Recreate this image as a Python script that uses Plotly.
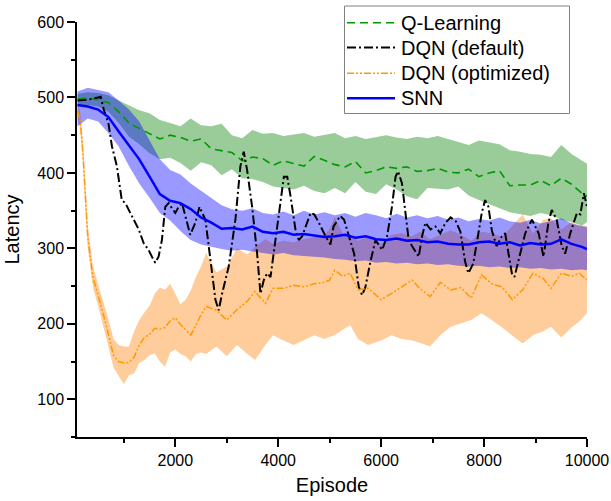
import plotly.graph_objects as go

# ---------------- data ----------------
EP = [100, 300, 500, 700, 900, 1100, 1300, 1500, 1700, 1900, 2100, 2300, 2500, 2700,
      2900, 3100, 3300, 3500, 3700, 3900, 4100, 4300, 4500, 4700, 4900, 5100, 5300,
      5500, 5700, 5900, 6100, 6300, 6500, 6700, 6900, 7100, 7300, 7500, 7700, 7900,
      8100, 8300, 8500, 8700, 8900, 9100, 9300, 9500, 9700, 9900, 10000]

SNN_MEAN = [490, 488, 484, 474, 455, 437, 418, 395, 372, 363, 360, 352, 341, 334,
            326, 327, 325, 329, 322, 320, 322, 318, 319, 317, 315, 316, 318,
            314, 316, 312, 311, 313, 310, 311, 308, 309, 306, 305, 305, 308,
            309, 306, 308, 304, 307, 305, 306, 312, 306, 302, 299]
SNN_UP = [508, 513, 510, 507, 496, 484, 468, 442, 418, 404, 398, 386, 376, 366,
          357, 352, 350, 353, 347, 345, 349, 344, 350, 345, 348, 344, 347,
          342, 347, 344, 340, 346, 341, 344, 340, 343, 338, 341, 336, 339,
          337, 341, 336, 334, 338, 333, 336, 340, 333, 330, 328]
SNN_LO = [462, 472, 468, 453, 435, 409, 386, 367, 347, 337, 323, 311, 305, 302,
          299, 297, 298, 296, 294, 292, 294, 291, 290, 289, 288, 286, 285,
          283, 284, 281, 282, 280, 281, 279, 280, 278, 279, 277, 276, 277,
          275, 276, 274, 275, 273, 274, 272, 273, 271, 272, 271]

QL_MEAN = [498, 499, 497, 493, 481, 466, 459, 452, 445, 450, 447, 442, 445, 432,
           429, 427, 416, 421, 419, 410, 416, 413, 409, 422, 417, 411, 408,
           415, 400, 403, 408, 406, 408, 402, 403, 406, 401, 400, 405, 395,
           400, 403, 383, 384, 384, 390, 383, 393, 385, 373, 369]
QL_UP = [505, 507, 506, 503, 496, 489, 483, 479, 470, 466, 462, 472, 463, 462,
         465, 450, 446, 457, 452, 453, 449, 451, 453, 448, 450, 453, 446,
         449, 445, 448, 450, 447, 445, 448, 446, 449, 445, 440, 437, 443,
         440, 438, 430, 428, 425, 424, 421, 437, 425, 416, 412]
QL_LO = [488, 490, 488, 481, 466, 448, 438, 426, 418, 420, 413, 403, 414, 410,
         397, 405, 393, 392, 388, 382, 380, 378, 383, 376, 373, 380, 373,
         388, 375, 372, 385, 378, 369, 365, 380, 379, 378, 382, 370, 364,
         358, 353, 348, 345, 343, 347, 344, 338, 335, 330, 335]

OPT_EP = [100, 150, 200, 250, 300, 400, 500, 600, 700, 800, 900, 1000, 1100, 1200,
          1300, 1400, 1500, 1600, 1700, 1800, 1900, 2000, 2100, 2200, 2300, 2400,
          2500, 2600, 2800, 3000, 3200, 3400, 3550, 3750, 3900, 4100, 4300, 4500,
          4700, 4900, 5000, 5100, 5250, 5400, 5550, 5750, 6000, 6200, 6400, 6600,
          6750, 6950, 7150, 7350, 7550, 7750, 7950, 8150, 8350, 8550, 8750, 8950,
          9150, 9300, 9500, 9700, 9850, 10000]
OPT_MEAN = [482, 470, 432, 370, 314, 262, 239, 213, 186, 158, 150, 148, 149, 156,
            172, 182, 186, 194, 193, 195, 204, 208, 199, 192, 185, 198,
            212, 223, 218, 205, 219, 230, 243, 227, 247, 247, 251, 249,
            253, 255, 258, 271, 263, 267, 245, 247, 232, 240, 249, 258,
            247, 236, 255, 245, 248, 234, 265, 253, 249, 232, 245, 267,
            260, 247, 267, 263, 267, 258]
OPT_UP = [492, 482, 447, 386, 330, 276, 253, 229, 206, 180, 172, 170, 170, 190,
          205, 215, 224, 240, 248, 245, 253, 240, 226, 232, 244, 262,
          276, 294, 268, 276, 300, 292, 302, 312, 306, 310, 308, 312,
          315, 318, 326, 342, 320, 318, 310, 315, 306, 318, 320, 316,
          322, 312, 318, 324, 318, 310, 322, 320, 315, 330, 345, 320,
          338, 340, 325, 335, 330, 330]
OPT_LO = [474, 458, 416, 354, 300, 248, 224, 198, 170, 142, 132, 120, 132, 134,
          148, 152, 158, 161, 150, 143, 162, 166, 160, 157, 150, 160,
          162, 160, 170, 157, 172, 160, 152, 172, 185, 178, 172, 178,
          185, 180, 183, 185, 192, 198, 180, 172, 178, 185, 180, 178,
          175, 170, 185, 196, 200, 205, 214, 205, 195, 185, 174, 185,
          190, 196, 182, 195, 203, 214]

DEF_EP = [100, 300, 500, 550, 610, 700, 770, 865, 960, 1030, 1125, 1190, 1290, 1385,
          1480, 1545, 1610, 1675, 1740, 1805, 1870, 1935, 2000, 2065, 2130, 2195,
          2290, 2390, 2470, 2585, 2680, 2780, 2843, 2909, 3038, 3168, 3265, 3330,
          3395, 3493, 3590, 3655, 3720, 3785, 3850, 3946, 4045, 4110, 4175, 4240,
          4337, 4400, 4465, 4630, 4700, 4790, 4920, 5015, 5075, 5205, 5280, 5475,
          5565, 5630, 5695, 5790, 5890, 6020, 6115, 6210, 6280, 6330, 6405, 6470,
          6535, 6600, 6730, 6795, 6860, 6960, 7055, 7150, 7250, 7350, 7450, 7540,
          7600, 7630, 7695, 7790, 7890, 7955, 8020, 8085, 8150, 8245, 8345, 8410,
          8475, 8540, 8590, 8670, 8800, 8930, 9060, 9155, 9250, 9315, 9410, 9510,
          9575, 9675, 9805, 9870, 9940, 10000]
DEF_MEAN = [496, 497, 500, 501, 484, 466, 435, 409, 364, 360, 347, 338, 325, 307,
            298, 289, 281, 289, 311, 355, 360, 353, 347, 355, 360, 343,
            318, 334, 355, 338, 289, 232, 218, 240, 276, 338, 409, 428,
            404, 355, 293, 240, 258, 267, 262, 311, 355, 395, 395, 369,
            324, 311, 316, 347, 345, 334, 316, 305, 329, 343, 338, 293,
            249, 238, 249, 282, 311, 298, 316, 355, 395, 402, 386, 347,
            311, 303, 289, 316, 334, 325, 329, 320, 334, 341, 336, 322,
            298, 283, 267, 280, 320, 347, 364, 355, 324, 303, 316, 320,
            293, 267, 262, 285, 320, 338, 320, 289, 334, 351, 338, 303,
            293, 320, 347, 345, 373, 355]

NAMES = ["Q-Learning", "DQN (default)", "DQN (optimized)", "SNN"]

# ---------------- styling ----------------
FONT = "Arial, 'Liberation Sans', sans-serif"
W, H = 611, 501
ML, MR, MT, MB = 77, 24, 22, 64
PW, PH = W - ML - MR, H - MT - MB

STYLES = [
    dict(color="#009a00", width=1.6, dash="8px,5px"),
    dict(color="black", width=2, dash="9px,3px,2px,3px"),
    dict(color="#ff9900", width=1.5, dash="7px,2px,2px,2px,2px,2px"),
    dict(color="#0000ff", width=2.5),
]

fig = go.Figure()


def band(x, up, lo, color):
    fig.add_trace(go.Scatter(
        x=list(x) + list(x)[::-1], y=list(up) + list(lo)[::-1],
        fill="toself", fillcolor=color, line=dict(width=0),
        mode="lines", showlegend=False, hoverinfo="skip"))


band(EP, QL_UP, QL_LO, "rgba(0,128,0,0.4)")
band(OPT_EP, OPT_UP, OPT_LO, "rgba(255,135,20,0.42)")
band(EP, SNN_UP, SNN_LO, "rgba(0,0,255,0.4)")

for xs, ys, name, st in [(EP, QL_MEAN, NAMES[0], STYLES[0]),
                         (DEF_EP, DEF_MEAN, NAMES[1], STYLES[1]),
                         (OPT_EP, OPT_MEAN, NAMES[2], STYLES[2]),
                         (EP, SNN_MEAN, NAMES[3], STYLES[3])]:
    fig.add_trace(go.Scatter(x=xs, y=ys, mode="lines", name=name, line=st))

# ---------------- legend (drawn as a boxed key, in page pixels) ----------------
def px_x(X):
    return (X - ML) / PW


def px_y(Y):
    return 1 - (Y - MT) / PH


BOX = (344.5, 6, 569.5, 113.5)          # left, top, right, bottom (pixels)
ROWS = [22.7, 47.5, 73.3, 98.3]         # row centres (pixels)
SAMPLE = (347, 395)
TEXT_X = 399

shapes = [dict(type="rect", xref="paper", yref="paper", layer="above",
               x0=px_x(BOX[0]), x1=px_x(BOX[2]), y0=px_y(BOX[3]), y1=px_y(BOX[1]),
               line=dict(color="#808080", width=1), fillcolor="white")]
annotations = []
for name, st, Y in zip(NAMES, STYLES, ROWS):
    shapes.append(dict(type="line", xref="paper", yref="paper", layer="above",
                       x0=px_x(SAMPLE[0]), x1=px_x(SAMPLE[1]),
                       y0=px_y(Y), y1=px_y(Y), line=st))
    annotations.append(dict(text=name, xref="paper", yref="paper",
                            x=px_x(TEXT_X), y=px_y(Y), xanchor="left", yanchor="middle",
                            showarrow=False,
                            font=dict(family=FONT, size=20, color="black")))

axis_common = dict(
    showline=True, linecolor="black", linewidth=1.5, mirror=False,
    showgrid=False, zeroline=False, ticks="outside", ticklen=8, tickwidth=1.5,
    tickcolor="black", tickfont=dict(family=FONT, size=16, color="black"),
    tickformat="d",
)

fig.update_layout(
    width=W, height=H,
    margin=dict(l=ML, r=MR, t=MT, b=MB, autoexpand=False),
    paper_bgcolor="white", plot_bgcolor="white",
    font=dict(family=FONT, color="black"),
    xaxis=dict(range=[90, 10000], tick0=0, dtick=2000,
               minor=dict(dtick=1000, ticklen=4, tickwidth=1.5, ticks="outside",
                          tickcolor="black", showgrid=False),
               title=dict(text="Episode", font=dict(family=FONT, size=20), standoff=10),
               **axis_common),
    yaxis=dict(range=[50, 600], tick0=0, dtick=100,
               minor=dict(dtick=50, ticklen=4, tickwidth=1.5, ticks="outside",
                          tickcolor="black", showgrid=False),
               title=dict(text="Latency", font=dict(family=FONT, size=20), standoff=12),
               **axis_common),
    showlegend=False,
    shapes=shapes,
    annotations=annotations,
)

fig.write_html("out.html",
               config={"displayModeBar": False},
               post_script="document.body.style.margin='0';"
                           "document.body.style.padding='0';"
                           "document.body.style.overflow='hidden';")
